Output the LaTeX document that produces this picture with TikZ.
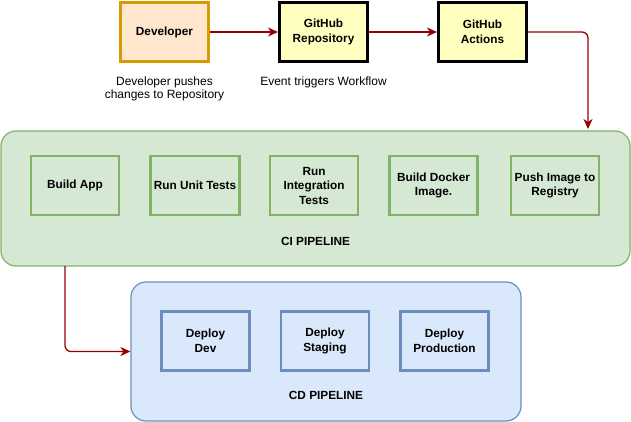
\documentclass[tikz,border=0pt]{standalone}
\usepackage{fontspec}
\setmainfont{Liberation Sans}
\usepackage{xcolor}
\usepackage{tikz}
\usetikzlibrary{shapes.geometric, arrows, arrows.meta, positioning, fit, backgrounds}
\usetikzlibrary{calc}

\definecolor{devline}{HTML}{D79B00}
\definecolor{devfill}{HTML}{FFE6CC}
\definecolor{ghfill}{HTML}{FFFFC0}
\definecolor{ciline}{HTML}{82B366}
\definecolor{cifill}{HTML}{D5E8D4}
\definecolor{cdline}{HTML}{6C8EBF}
\definecolor{cdfill}{HTML}{DAE8FC}
\definecolor{flowred}{HTML}{990000}

\begin{document}
\begin{tikzpicture}[
    x=1pt, y=-1pt,
    node distance=29pt,
    font=\fontsize{12}{13}\selectfont,
    source/.style={rectangle, draw=devline, fill=devfill, line width=3pt, minimum width=88pt, minimum height=59pt, align=center, font=\fontsize{11.8}{14.5}\selectfont\bfseries},
    github/.style={rectangle, draw=black, fill=ghfill, line width=3pt, minimum width=88pt, minimum height=59pt, align=center, font=\fontsize{11.8}{14.5}\selectfont\bfseries},
    pipeline/.style={rectangle, rounded corners=15pt, line width=1.2pt, align=center},
    cistep/.style={rectangle, draw=ciline, fill=cifill, line width=2.5pt, minimum width=88pt, minimum height=59pt, align=center, font=\fontsize{11.8}{14.5}\selectfont\bfseries},
    cdstep/.style={rectangle, draw=cdline, fill=cdfill, line width=2.5pt, minimum width=88pt, minimum height=59pt, align=center, font=\fontsize{11.8}{14.5}\selectfont\bfseries},
    title/.style={font=\fontsize{11.8}{14}\selectfont\bfseries},
    note/.style={align=center, font=\fontsize{12}{13}\selectfont},
    flow/.style={-{Stealth[length=10pt, width=9pt, inset=3pt]}, draw=flowred, line width=1.3pt, rounded corners=6pt}
]
\useasboundingbox (0,0) rectangle (631,422);

% Trigger
\node[source] (dev) at (164.5,32) {Developer};
\node[github, right=68pt of dev] (repo) {GitHub\\Repository};
\node[github, right=68pt of repo] (actions) {GitHub\\Actions};
\node[note, below=10pt of dev] (pushnote) {Developer pushes\\changes to Repository};
\node[note, below=10pt of repo.south, anchor=north] (eventnote) {Event triggers Workflow};

% CI pipeline
\node[pipeline, draw=ciline, fill=cifill, minimum width=629pt, minimum height=135pt] (ci) at (315.5,198.5) {};
\node[cistep] (build) at (75,185.5) {Build App};
\node[cistep, right=29pt of build] (unit) {Run Unit Tests};
\node[cistep, right=28pt of unit] (integ) {Run\\Integration\\Tests};
\node[cistep, right=29pt of integ] (docker) {Build Docker\\Image.};
\node[cistep, right=31pt of docker] (push) {Push Image to\\Registry};
\node[title] (cititle) at (315.5,241) {CI PIPELINE};

% CD pipeline
\node[pipeline, draw=cdline, fill=cdfill, minimum width=390pt, minimum height=139pt] (cd) at (326,351.5) {};
\node[cdstep] (ddev) at (205.5,341) {Deploy\\Dev};
\node[cdstep, right=29pt of ddev] (dstage) {Deploy\\Staging};
\node[cdstep, right=29pt of dstage] (dprod) {Deploy\\Production};
\node[title] (cdtitle) at (326,395) {CD PIPELINE};

% Arrows
\coordinate (ciin) at (588,129);
\coordinate (ciout) at (65,266);
\draw[flow] (dev) -- (repo);
\draw[flow] (repo) -- (actions);
\draw[flow] (actions.east) -| (ciin);
\draw[flow] (ciout) |- (cd.west);

\end{tikzpicture}
\end{document}
